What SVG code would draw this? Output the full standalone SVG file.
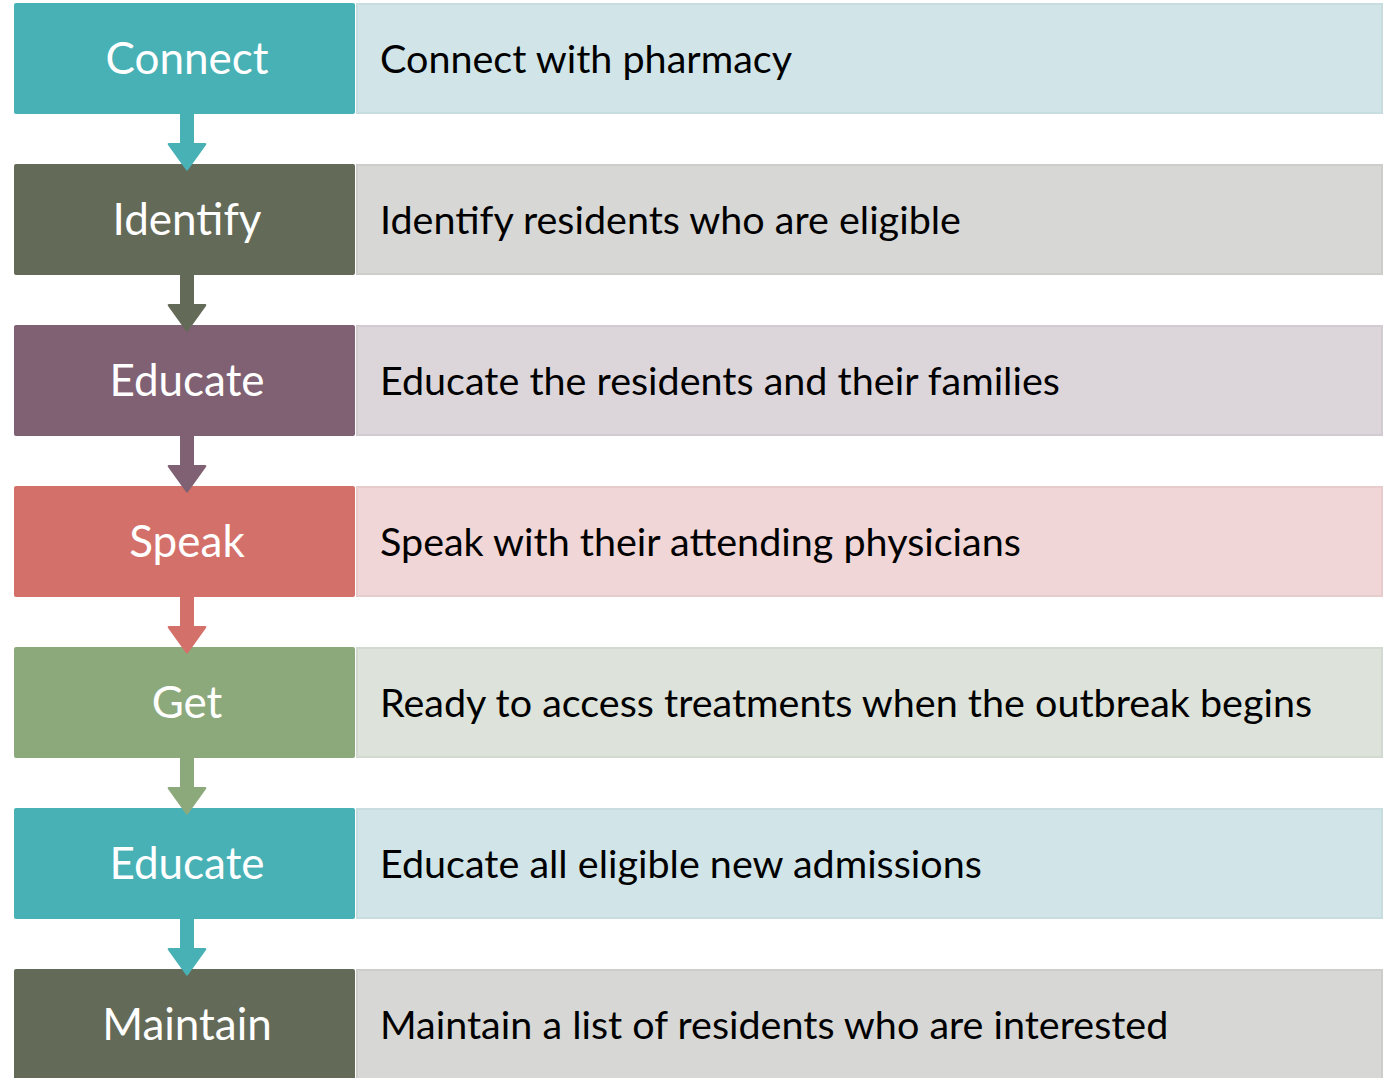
<svg xmlns="http://www.w3.org/2000/svg" width="1384" height="1078" viewBox="0 0 1384 1078">
  <defs>
    <style>
      .step { font-family: Lato, "Open Sans", sans-serif; font-size: 44px; fill: #ffffff; text-anchor: middle; }
      .desc { font-family: Lato, "Open Sans", sans-serif; font-size: 39.5px; fill: #000000; }
      .teal { fill: #47B1B5; }
      .olive { fill: #646A58; }
      .plum { fill: #7F6173; }
      .coral { fill: #D4706A; }
      .sage { fill: #8CA97C; }
      .bg-teal { fill: #D1E5E8; stroke: #C7DDE0; stroke-width: 2; }
      .bg-olive { fill: #D7D7D5; stroke: #CDCDCA; stroke-width: 2; }
      .bg-plum { fill: #DCD6DB; stroke: #D2CBD0; stroke-width: 2; }
      .bg-coral { fill: #F0D6D7; stroke: #E8CBCC; stroke-width: 2; }
      .bg-sage { fill: #DDE3DB; stroke: #D2D9D0; stroke-width: 2; }
    </style>
    <!-- down arrow shape, positioned with translate -->
    <path id="arrow" d="M -7 0 L 7 0 L 7 29 L 18 29 Q 20 29 19 31 L 1 56 Q 0 57.5 -1 56 L -19 31 Q -20 29 -18 29 L -7 29 Z"/>
  </defs>

  <g id="node-connect">
    <rect x="357" y="4" width="1025" height="109" class="bg-teal"/>
    <rect x="14" y="3" width="341" height="111" rx="2" class="teal"/>
    <text x="187" y="74" class="step">Connect</text>
    <text x="380" y="73" class="desc">Connect with pharmacy</text>
  </g>

  <g id="node-identify">
    <rect x="357" y="165" width="1025" height="109" class="bg-olive"/>
    <rect x="14" y="164" width="341" height="111" rx="2" class="olive"/>
    <text x="187" y="235" class="step">Identify</text>
    <text x="380" y="234" class="desc">Identify residents who are eligible</text>
  </g>

  <g id="node-educate-1">
    <rect x="357" y="326" width="1025" height="109" class="bg-plum"/>
    <rect x="14" y="325" width="341" height="111" rx="2" class="plum"/>
    <text x="187" y="396" class="step">Educate</text>
    <text x="380" y="395" class="desc">Educate the residents and their families</text>
  </g>

  <g id="node-speak">
    <rect x="357" y="487" width="1025" height="109" class="bg-coral"/>
    <rect x="14" y="486" width="341" height="111" rx="2" class="coral"/>
    <text x="187" y="557" class="step">Speak</text>
    <text x="380" y="556" class="desc">Speak with their attending physicians</text>
  </g>

  <g id="node-get">
    <rect x="357" y="648" width="1025" height="109" class="bg-sage"/>
    <rect x="14" y="647" width="341" height="111" rx="2" class="sage"/>
    <text x="187" y="718" class="step">Get</text>
    <text x="380" y="717" class="desc">Ready to access treatments when the outbreak begins</text>
  </g>

  <g id="node-educate-2">
    <rect x="357" y="809" width="1025" height="109" class="bg-teal"/>
    <rect x="14" y="808" width="341" height="111" rx="2" class="teal"/>
    <text x="187" y="879" class="step">Educate</text>
    <text x="380" y="878" class="desc">Educate all eligible new admissions</text>
  </g>

  <g id="node-maintain">
    <rect x="357" y="970" width="1025" height="112" class="bg-olive"/>
    <rect x="14" y="969" width="341" height="115" rx="2" class="olive"/>
    <text x="187" y="1040" class="step">Maintain</text>
    <text x="380" y="1039" class="desc">Maintain a list of residents who are interested</text>
  </g>

  <!-- connectors, drawn last so the arrow tips sit over the next box -->
  <g id="connectors">
    <use href="#arrow" class="teal" transform="translate(187,114)"/>
    <use href="#arrow" class="olive" transform="translate(187,275)"/>
    <use href="#arrow" class="plum" transform="translate(187,436)"/>
    <use href="#arrow" class="coral" transform="translate(187,597)"/>
    <use href="#arrow" class="sage" transform="translate(187,758)"/>
    <use href="#arrow" class="teal" transform="translate(187,919)"/>
  </g>
</svg>
